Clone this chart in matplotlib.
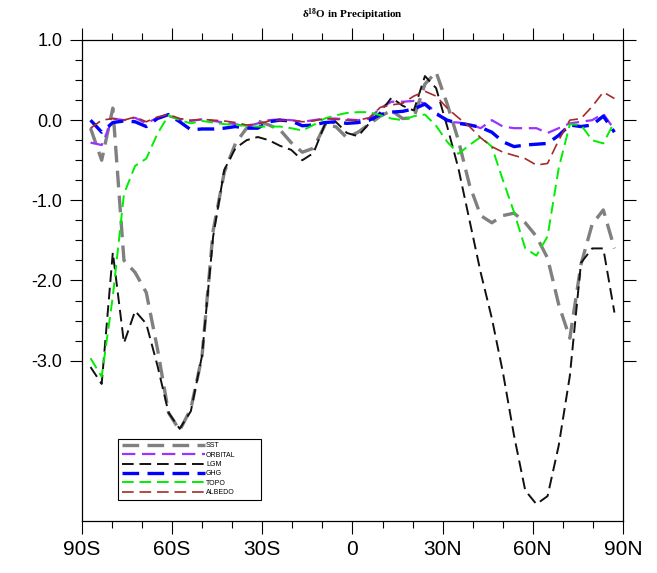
import numpy as np
import matplotlib
matplotlib.use('Agg')
import matplotlib.pyplot as plt

plt.rcParams['font.family'] = ['Liberation Sans', 'DejaVu Sans']
plt.rcParams['mathtext.fontset'] = 'custom'
plt.rcParams['mathtext.rm'] = 'Liberation Serif:bold'
plt.rcParams['mathtext.default'] = 'rm'

# T31 gaussian latitudes (48), approx
lat = np.linspace(-87.16, 87.16, 48)

sst = [-0.1, -0.5, 0.15, -1.75, -1.9, -2.15, -2.85, -3.65, -3.87, -3.6,
       -2.95, -1.38, -0.65, -0.29, -0.1, -0.01, -0.06, -0.12, -0.28, -0.4,
       -0.35, -0.07, -0.08, -0.22, -0.15, -0.05, 0.05, 0.12, 0.02, 0.03,
       0.45, 0.6, 0.2, -0.25, -0.81, -1.19, -1.28, -1.19, -1.16, -1.28,
       -1.45, -1.72, -2.3, -2.72, -1.8, -1.3, -1.12, -1.6]
orbital = [-0.28, -0.31, 0.02, 0.0, 0.03, -0.04, 0.03, 0.05, 0.01, -0.01,
           0.01, -0.01, -0.03, -0.05, -0.08, -0.04, 0.0, 0.01, 0.0, -0.02,
           0.0, 0.02, 0.02, 0.01, 0.0, 0.02, 0.15, 0.23, 0.23, 0.24,
           0.21, 0.1, -0.02, -0.03, -0.05, -0.1, 0.0, -0.08, -0.1, -0.1,
           -0.1, -0.16, -0.1, -0.04, -0.02, 0.0, 0.08, -0.12]
lgm = [-3.08, -3.29, -1.65, -2.78, -2.38, -2.54, -3.06, -3.65, -3.85, -3.63,
       -2.94, -1.45, -0.62, -0.35, -0.25, -0.21, -0.25, -0.32, -0.37, -0.5,
       -0.41, -0.06, -0.02, -0.16, -0.2, -0.04, 0.1, 0.28, 0.18, 0.12,
       0.55, 0.4, -0.08, -0.6, -1.25, -1.9, -2.47, -3.15, -3.94, -4.62,
       -4.79, -4.69, -4.06, -3.19, -1.78, -1.6, -1.6, -2.4]
ghg = [0.0, -0.15, -0.03, -0.01, -0.02, -0.08, 0.02, 0.07, -0.02, -0.12,
       -0.11, -0.11, -0.1, -0.08, -0.1, -0.1, -0.02, 0.0, -0.01, -0.07,
       -0.06, -0.03, -0.02, -0.04, -0.03, 0.0, 0.07, 0.1, 0.11, 0.14,
       0.2, 0.08, 0.0, -0.04, -0.06, -0.09, -0.15, -0.27, -0.33, -0.31,
       -0.3, -0.29, -0.19, -0.06, -0.08, -0.06, 0.05, -0.15]
topo = [-2.97, -3.2, -2.2, -0.92, -0.57, -0.48, -0.17, 0.06, 0.0, -0.04,
        -0.01, -0.03, -0.05, -0.06, -0.07, -0.08, -0.08, -0.08, -0.1, -0.13,
        -0.06, 0.02, 0.06, 0.09, 0.1, 0.1, 0.06, 0.02, 0.0, 0.05,
        0.07, -0.07, -0.27, -0.42, -0.31, -0.21, -0.33, -0.75, -1.15, -1.6,
        -1.69, -1.45, -0.6, -0.05, -0.06, -0.25, -0.29, -0.02]
albedo = [-0.1, 0.0, 0.02, 0.0, 0.04, -0.02, 0.04, 0.07, 0.02, 0.0,
          0.01, 0.0, -0.01, -0.03, -0.06, -0.05, -0.01, 0.0, 0.0, -0.02,
          -0.01, 0.02, 0.01, 0.0, 0.0, 0.03, 0.16, 0.19, 0.21, 0.3,
          0.36, 0.3, 0.15, 0.03, -0.08, -0.22, -0.33, -0.4, -0.44, -0.48,
          -0.56, -0.54, -0.25, 0.0, 0.02, 0.17, 0.35, 0.27]

xticks = [-90, -60, -30, 0, 30, 60, 90]
xlabels = ['90S', '60S', '30S', '0', '30N', '60N', '90N']
yticks = [1, 0, -1, -2, -3]
ylabels = ['1.0', '0.0', '-1.0', '-2.0', '-3.0']

fig = plt.figure(figsize=(6.57, 5.73), dpi=100)
ax = fig.add_axes([0.1248, 0.0908, 0.8234, 0.8394])

ax.plot(lat, sst, color='#808080', lw=2.4, ls=(0, (5, 2.5)), label='SST')
ax.plot(lat, orbital, color='#9933ff', lw=1.6, ls=(0, (6, 3)), label='ORBITAL')
ax.plot(lat, lgm, color='#111111', lw=1.4, ls=(0, (6, 3)), label='LGM')
ax.plot(lat, ghg, color='#0000ff', lw=2.4, ls=(0, (5, 2.5)), label='GHG')
ax.plot(lat, topo, color='#00ee00', lw=1.4, ls=(0, (6, 3)), label='TOPO')
ax.plot(lat, albedo, color='#a52a2a', lw=1.2, ls=(0, (7, 3.5)), label='ALBEDO')

ax.set_xlim(-90, 90)
ax.set_ylim(-5, 1)
ax.set_xticks(xticks)
ax.set_xticklabels(xlabels, fontsize=15)
ax.set_xticks(np.arange(-80, 90, 10), minor=True)
ax.set_yticks(yticks)
ax.set_yticklabels(ylabels, fontsize=13)
ax.set_yticks(np.arange(-3, 1.01, 0.25), minor=True)
ax.tick_params(which='both', direction='out', top=True, right=True, width=0.8)
ax.tick_params(which='major', length=9, pad=5)
ax.tick_params(which='minor', length=5)
for s in ax.spines.values():
    s.set_linewidth(0.9)

leg = ax.legend(loc='lower left', bbox_to_anchor=(0.061, 0.037, 0.277, 0.125),
                mode='expand', fontsize=5, handlelength=12, handletextpad=0.1,
                labelspacing=0.35, borderpad=0.5, fancybox=False,
                edgecolor='black', framealpha=1)
leg.get_frame().set_linewidth(0.8)

fig.text(0.536, 0.975, 'δ$^{18}$O in Precipitation', ha='center', va='center',
         fontsize=8, family='Liberation Serif', weight='bold')

plt.savefig('out.png')
